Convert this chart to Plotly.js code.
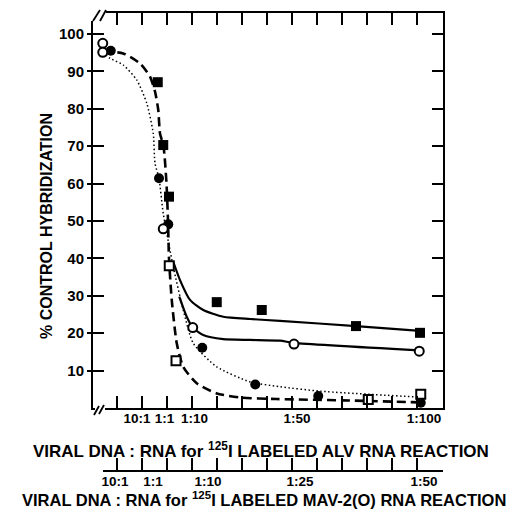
<!DOCTYPE html>
<html>
<head>
<meta charset="utf-8">
<script src="https://cdn.plot.ly/plotly-3.0.1.min.js"></script>
<style>html,body{margin:0;padding:0;background:#fff;}#chart{width:523px;height:516px;}</style>
</head>
<body>
<div id="chart"></div>
<script>
// ---- Data (x in axis-tick units, 0..12 = the 13 tick marks) ----
const filledSqX = [1.63, 1.85, 2.08, 3.99, 5.79, 9.56, 12.12];
const filledSqY = [87.1, 70.3, 56.5, 28.3, 26.2, 21.9, 20.1];
const filledCirX = [-0.25, 1.68, 2.05, 3.41, 5.53, 8.05, 12.15];
const filledCirY = [95.5, 61.4, 49.1, 16.1, 6.3, 3.2, 1.4];
const openCirX = [-0.57, -0.57, 1.85, 3.03, 7.08, 12.09];
const openCirY = [97.5, 95.1, 47.9, 21.5, 17.1, 15.2];
const openSqX = [2.09, 2.36, 10.05, 12.15];
const openSqY = [38.0, 12.6, 2.3, 3.7];

// fitted curves
const dashX = [-0.55, 0.25, 0.92, 1.32, 1.52, 1.65, 1.72, 1.86, 1.98, 2.04, 2.08, 2.19, 2.39, 2.65, 3.19, 3.99, 4.92, 6.39, 9.32, 12.12];
const dashY = [95.3, 94.8, 92.1, 88.6, 84.6, 79.7, 73.4, 70, 60, 50, 40, 28.9, 17.3, 11.0, 6.6, 3.9, 2.8, 2.4, 2.0, 1.5];
const dotX = [-0.56, -0.28, 0.25, 0.79, 1.19, 1.45, 1.52, 1.68, 1.85, 2.25, 2.65, 3.05, 3.99, 5.32, 6.52, 8.12, 12.12];
const dotY = [95.2, 93.5, 91.7, 87.7, 81.5, 73.4, 65.4, 61.4, 52, 37.8, 26.2, 17.3, 11.0, 7.0, 5.7, 4.5, 2.9];
const solidAX = [2.25, 2.52, 2.92, 3.45, 4.25, 5.32, 6.52, 9.56, 12.12];
const solidAY = [39.1, 34.2, 28.9, 26.2, 24.4, 23.8, 23.3, 21.9, 20.6];
const solidBX = [2.49, 2.79, 3.03, 3.45, 4.25, 5.32, 6.52, 7.08, 12.09];
const solidBY = [29.8, 24.4, 21.5, 19.5, 18.4, 18.2, 18.0, 17.4, 15.4];

// tick labels
const alvPos = [0.8, 1.9, 3.1, 7.2, 12.28];
const alvLabels = ["10:1", "1:1", "1:10", "1:50", "1:100"];
const mavPos = [-0.08, 1.44, 3.64, 7.32, 12.28];
const mavLabels = ["10:1", "1:1", "1:10", "1:25", "1:50"];
const yTicks = [10, 20, 30, 40, 50, 60, 70, 80, 90, 100];
const tickIdx = [0,1,2,3,4,5,6,7,8,9,10,11,12];

const yTitle = "% CONTROL HYBRIDIZATION";
const xTitle1 = "VIRAL DNA : RNA for <sup>125</sup>I LABELED ALV RNA REACTION";
const xTitle2 = "VIRAL DNA : RNA for <sup>125</sup>I LABELED MAV-2(O) RNA REACTION";

// ---- layout geometry helpers (pixels -> paper) ----
const W = 523, H = 516, ML = 93, MR = 80, MT = 13, MB = 45;
const PW = W - ML - MR, PH = H - MT - MB;
const px = v => (v - ML) / PW;
const py = v => (H - MB - v) / PH;
const plotBottom = 408;

const F = "Liberation Sans, Arial, sans-serif";
const fontTick = {family: F, size: 13.5, color: "#000", weight: 700};

const traces = [
  {x: dashX, y: dashY, mode: "lines", line: {shape: "spline", smoothing: 0.6, color: "#000", width: 2.6, dash: "9px,5px"}, hoverinfo: "skip"},
  {x: dotX, y: dotY, mode: "lines", line: {shape: "spline", smoothing: 0.6, color: "#000", width: 1.5, dash: "1.5px,2.5px"}, hoverinfo: "skip"},
  {x: solidAX, y: solidAY, mode: "lines", line: {shape: "spline", smoothing: 0.6, color: "#000", width: 2.2}, hoverinfo: "skip"},
  {x: solidBX, y: solidBY, mode: "lines", line: {shape: "spline", smoothing: 0.6, color: "#000", width: 2.2}, hoverinfo: "skip"},
  {x: filledSqX, y: filledSqY, mode: "markers", marker: {symbol: "square", size: 10, color: "#000"}},
  {x: filledCirX, y: filledCirY, mode: "markers", marker: {symbol: "circle", size: 10, color: "#000"}},
  {x: openCirX, y: openCirY, mode: "markers", marker: {symbol: "circle", size: 9, color: "#fff", line: {color: "#000", width: 2}}},
  {x: openSqX, y: openSqY, mode: "markers", marker: {symbol: "square", size: 9, color: "#fff", line: {color: "#000", width: 2}}},
  // carriers for the overlay axes
  {x: [null], y: [null], xaxis: "x2", yaxis: "y", mode: "markers", hoverinfo: "skip"},
  {x: [null], y: [null], xaxis: "x", yaxis: "y2", mode: "markers", hoverinfo: "skip"},
  {x: [null], y: [null], xaxis: "x3", yaxis: "y", mode: "markers", hoverinfo: "skip"},
  {x: [null], y: [null], xaxis: "x4", yaxis: "y", mode: "markers", hoverinfo: "skip"}
];

const xr = [-0.96, 13.04];
const x3r = [-0.56, 13.04];
const yDom = [py(plotBottom), 1];
const yr = [0, 105.6];

const layout = {
  width: W, height: H,
  margin: {l: ML, r: MR, t: MT, b: MB},
  paper_bgcolor: "#fff", plot_bgcolor: "rgba(0,0,0,0)",
  showlegend: false,
  font: {family: F, color: "#000"},
  xaxis: {domain: [0, 1], anchor: "y", range: xr, tickvals: tickIdx, ticks: "inside", ticklen: 12, tickwidth: 2,
          tickcolor: "#000", showticklabels: false, showline: true, linecolor: "#000", linewidth: 2, mirror: "ticks",
          showgrid: false, zeroline: false},
  xaxis2: {overlaying: "x", anchor: "y", range: xr, tickvals: alvPos, ticktext: alvLabels, ticks: "", showline: false,
           showgrid: false, zeroline: false, tickfont: fontTick, side: "bottom", tickangle: 0},
  xaxis3: {domain: [px(103), 1], anchor: "free", position: 0, range: x3r, tickvals: tickIdx, ticks: "inside", ticklen: 12,
           tickwidth: 2, tickcolor: "#000", showticklabels: false, showline: true, linecolor: "#000", linewidth: 2,
           showgrid: false, zeroline: false},
  xaxis4: {overlaying: "x3", anchor: "free", position: 0, domain: [px(103), 1], range: x3r, tickvals: mavPos, ticktext: mavLabels,
           ticks: "", showline: false, showgrid: false, zeroline: false, tickfont: fontTick, side: "bottom", tickangle: 0},
  yaxis: {domain: yDom, anchor: "x", range: yr, tickvals: yTicks, ticks: "outside", ticklen: 4, tickwidth: 2, tickcolor: "#000",
          tickfont: {family: F, size: 15, color: "#000", weight: 700}, showline: true, linecolor: "#000", linewidth: 2,
          showgrid: false, zeroline: false},
  yaxis2: {overlaying: "y", anchor: "x", range: yr, tickvals: yTicks, ticks: "inside", ticklen: 11, tickwidth: 2, tickcolor: "#000",
           showticklabels: false, showline: true, linecolor: "#000", linewidth: 2, mirror: "ticks", showgrid: false, zeroline: false},
  annotations: [
    {xref: "paper", yref: "paper", x: px(46), y: py(226), text: yTitle, textangle: -90, showarrow: false,
     xanchor: "center", yanchor: "middle", font: {family: F, size: 16, color: "#000", weight: 700}},
    {xref: "paper", yref: "paper", x: px(261), y: py(449.5), text: xTitle1, showarrow: false,
     xanchor: "center", yanchor: "middle", font: {family: F, size: 17, color: "#000", weight: 700}},
    {xref: "paper", yref: "paper", x: px(264), y: py(499.5), text: xTitle2, showarrow: false,
     xanchor: "center", yanchor: "middle", font: {family: F, size: 16.5, color: "#000", weight: 700}}
  ],
  shapes: [
    // axis break marks
    {type: "rect", xref: "paper", yref: "paper", x0: px(91), x1: px(106), y0: py(8), y1: py(21), fillcolor: "#fff", line: {width: 0}, layer: "above"},
    {type: "line", xref: "paper", yref: "paper", x0: px(93), y0: py(21), x1: px(100), y1: py(10), line: {color: "#000", width: 1.8}, layer: "above"},
    {type: "line", xref: "paper", yref: "paper", x0: px(100), y0: py(21), x1: px(106), y1: py(10), line: {color: "#000", width: 1.8}, layer: "above"},
    {type: "rect", xref: "paper", yref: "paper", x0: px(95), x1: px(105), y0: py(404), y1: py(412), fillcolor: "#fff", line: {width: 0}, layer: "above"},
    {type: "line", xref: "paper", yref: "paper", x0: px(94), y0: py(415), x1: px(99), y1: py(406), line: {color: "#000", width: 1.8}, layer: "above"},
    {type: "line", xref: "paper", yref: "paper", x0: px(99), y0: py(414), x1: px(104), y1: py(405), line: {color: "#000", width: 1.8}, layer: "above"}
  ]
};

Plotly.newPlot("chart", traces, layout, {staticPlot: true, displayModeBar: false});
</script>
</body>
</html>
